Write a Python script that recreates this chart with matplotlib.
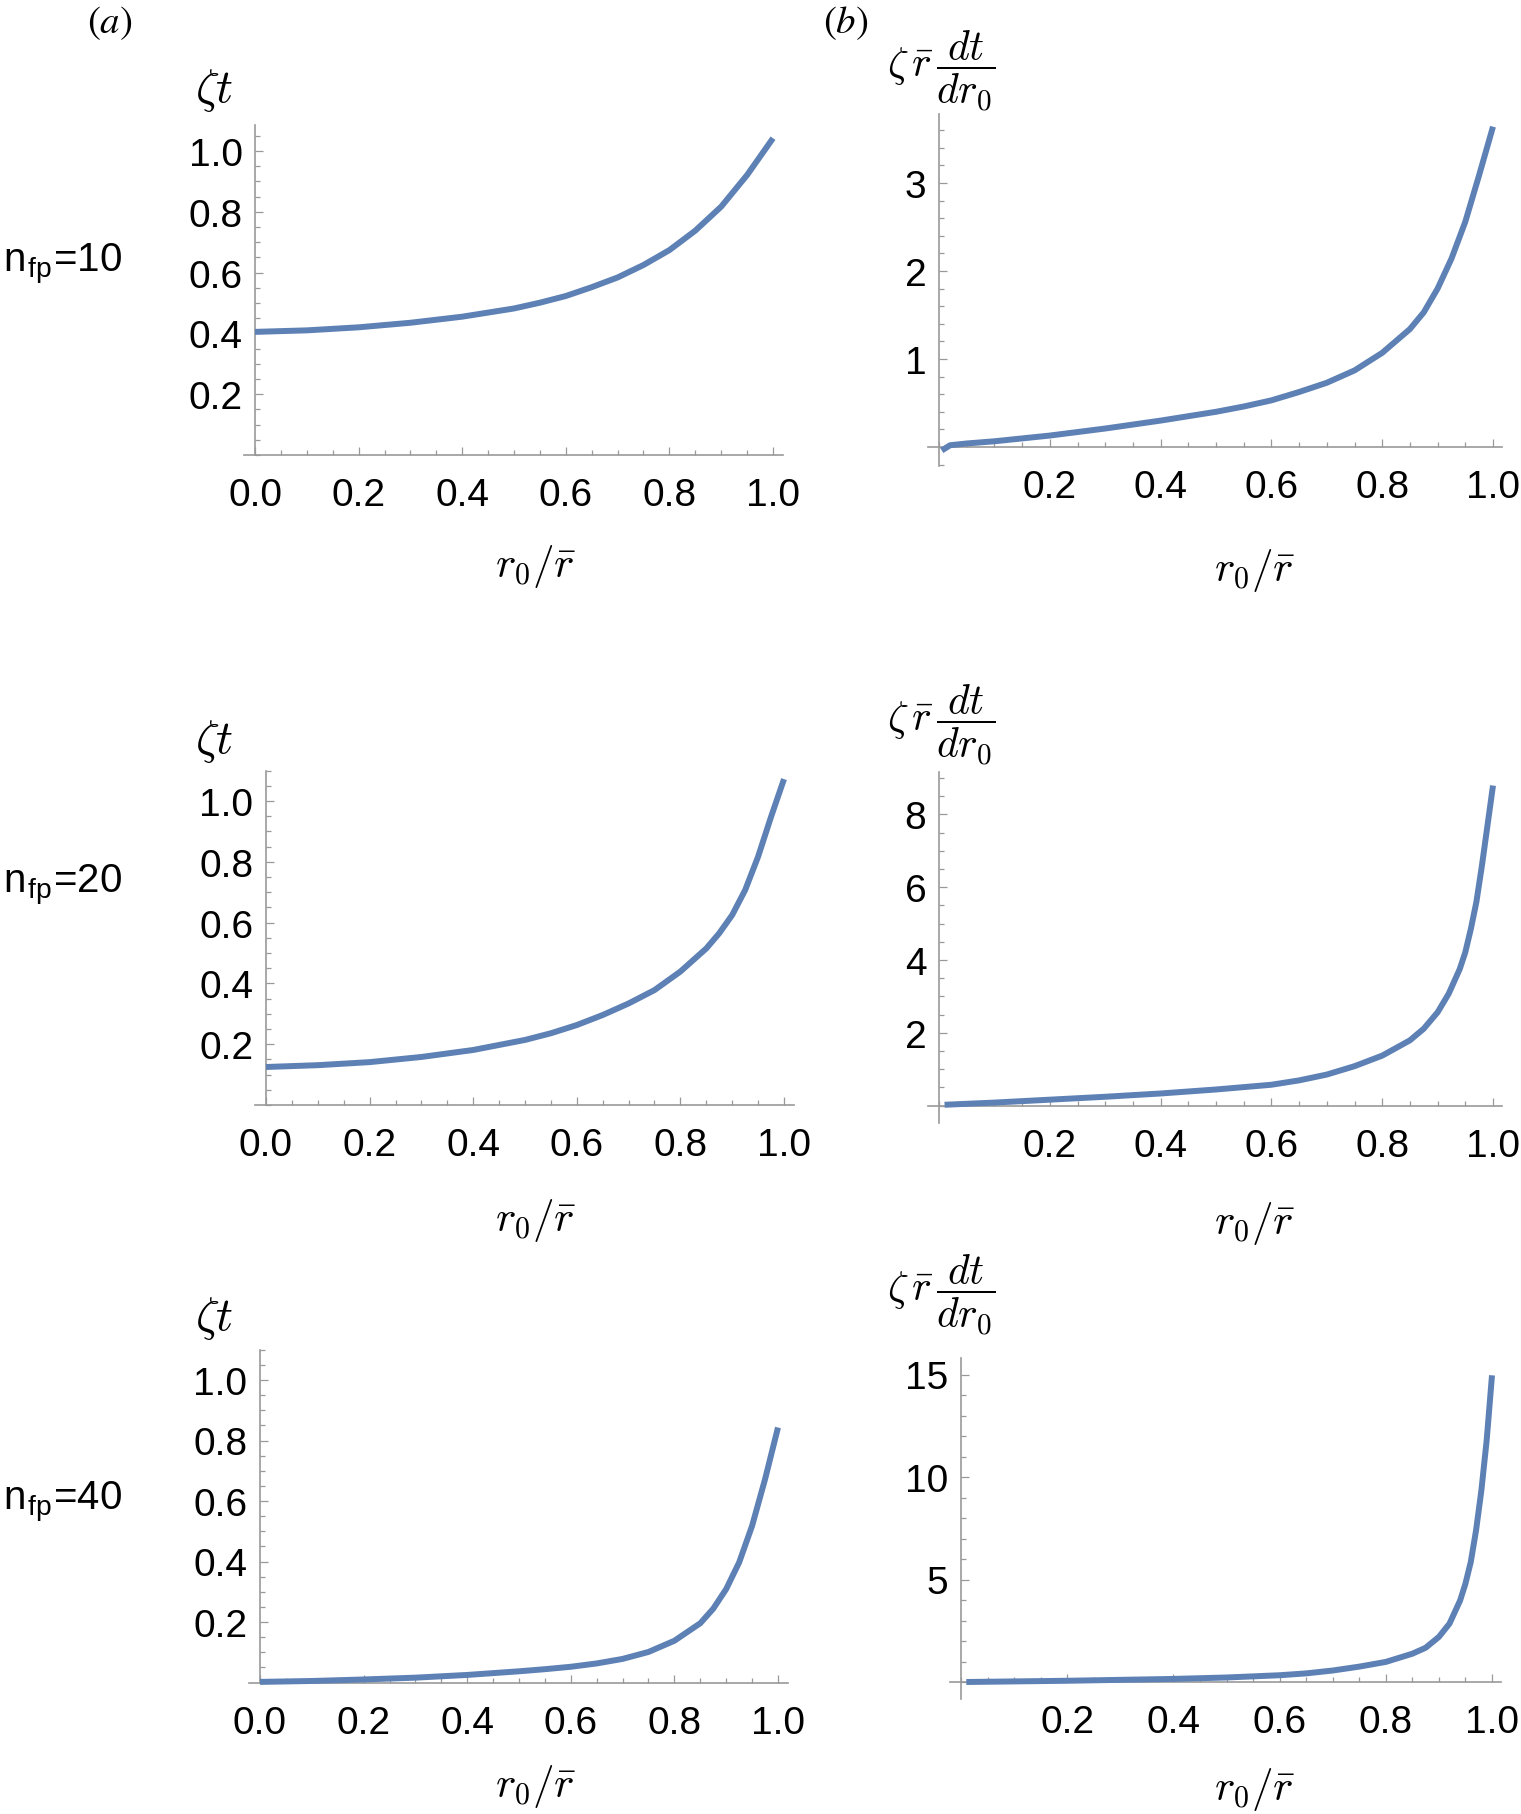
import matplotlib
matplotlib.use('Agg')
import matplotlib.pyplot as plt
from matplotlib.ticker import MultipleLocator, FixedLocator

plt.rcParams['font.family'] = ['Liberation Sans', 'DejaVu Sans']
plt.rcParams['mathtext.fontset'] = 'cm'

W, H = 1521, 1815
DPI = 100

# ---- data ----
row_labels = ['10', '20', '40']

# column (a): zeta*t vs r0/rbar
xa_10 = [0.0, 0.1, 0.2, 0.3, 0.4, 0.5, 0.55, 0.6, 0.65, 0.7, 0.75, 0.8, 0.85, 0.9, 0.95, 1.0]
ya_10 = [0.405, 0.41, 0.42, 0.435, 0.455, 0.482, 0.501, 0.523, 0.552, 0.584, 0.625, 0.674, 0.738,
         0.817, 0.921, 1.042]

xa_20 = [0.0, 0.1, 0.2, 0.3, 0.4, 0.5, 0.55, 0.6, 0.65, 0.7, 0.75, 0.8, 0.85, 0.875, 0.9, 0.925,
         0.95, 0.975, 1.0]
ya_20 = [0.125, 0.131, 0.141, 0.158, 0.181, 0.214, 0.236, 0.263, 0.296, 0.334, 0.378, 0.439, 0.515,
         0.565, 0.625, 0.707, 0.817, 0.948, 1.072]

xa_40 = [0.0, 0.1, 0.2, 0.3, 0.4, 0.5, 0.55, 0.6, 0.65, 0.7, 0.75, 0.8, 0.85, 0.875, 0.9, 0.925,
         0.95, 0.975, 1.0]
ya_40 = [0.002, 0.005, 0.01, 0.016, 0.025, 0.037, 0.044, 0.052, 0.063, 0.078, 0.101, 0.138, 0.196,
         0.244, 0.309, 0.397, 0.518, 0.672, 0.843]

# column (b): zeta*rbar*dt/dr0 vs r0/rbar
xb_10 = [0.005, 0.02, 0.05, 0.1, 0.2, 0.3, 0.4, 0.5, 0.55, 0.6, 0.65, 0.7, 0.75, 0.8, 0.85, 0.875,
         0.9, 0.925, 0.95, 0.975, 1.0]
yb_10 = [-0.04, 0.02, 0.04, 0.065, 0.13, 0.21, 0.30, 0.40, 0.46, 0.53, 0.625, 0.73, 0.87, 1.07,
         1.34, 1.53, 1.80, 2.14, 2.56, 3.09, 3.64]

xb_20 = [0.01, 0.1, 0.2, 0.3, 0.4, 0.5, 0.6, 0.65, 0.7, 0.75, 0.8, 0.85, 0.875, 0.9, 0.92, 0.94,
         0.95, 0.96, 0.97, 0.98, 0.99, 1.0]
yb_20 = [0.02, 0.08, 0.16, 0.24, 0.33, 0.44, 0.57, 0.69, 0.85, 1.08, 1.37, 1.79, 2.11, 2.56, 3.07,
         3.75, 4.21, 4.85, 5.59, 6.59, 7.69, 8.79]

xb_40 = [0.01, 0.2, 0.4, 0.5, 0.6, 0.65, 0.7, 0.75, 0.8, 0.85, 0.875, 0.9, 0.92, 0.94, 0.95, 0.96,
         0.97, 0.98, 0.99, 1.0]
yb_40 = [0.0, 0.06, 0.15, 0.22, 0.33, 0.42, 0.56, 0.75, 0.98, 1.38, 1.67, 2.2, 2.85, 3.98, 4.8,
         5.85, 7.4, 9.35, 11.8, 14.96]

a_ticks = [0.2, 0.4, 0.6, 0.8, 1.0]
b_ticks = [[1, 2, 3], [2, 4, 6, 8], [5, 10, 15]]
b_minor = [0.2, 0.5, 1.0]

LINE = '#5e81b5'
AXC = '#999999'
FS = 28

fig = plt.figure(figsize=(W / DPI, H / DPI), dpi=DPI)


def px(x, y):
    return x / W, 1 - y / H


def add_panel(x0, sx, y0, sy, xlim, ylim):
    # x0,y0: pixel of data origin; sx,sy: pixels per data unit
    left = (x0 + xlim[0] * sx) / W
    width = (xlim[1] - xlim[0]) * sx / W
    bottom = 1 - (y0 - ylim[0] * sy) / H
    height = (ylim[1] - ylim[0]) * sy / H
    ax = fig.add_axes([left, bottom, width, height])
    ax.set_xlim(*xlim)
    ax.set_ylim(*ylim)
    ax.patch.set_visible(False)
    for s in ['top', 'right']:
        ax.spines[s].set_visible(False)
    for s in ['left', 'bottom']:
        ax.spines[s].set_position(('data', 0))
        ax.spines[s].set_color(AXC)
        ax.spines[s].set_linewidth(1.2)
    ax.tick_params(which='both', direction='in', color=AXC, width=0.9)
    ax.tick_params(which='major', length=6)
    ax.tick_params(which='minor', length=3.5)
    ax.tick_params(axis='x', which='major', pad=16, labelsize=FS)
    ax.tick_params(axis='y', which='major', pad=9, labelsize=FS)
    ax.xaxis.set_minor_locator(MultipleLocator(0.05))
    return ax


# (x0, sx, y0, sy, ylim) per panel
a_geom = [(255, 518, 456, 304, (0, 1.086)),
          (266, 518, 1106, 304, (0, 1.10)),
          (260, 518, 1683.5, 302.5, (0, 1.10))]
b_geom = [(939, 554, 448, 88, (-0.22, 3.78)),
          (939, 554, 1106.5, 36.4, (-0.49, 9.17)),
          (961, 531, 1683, 20.5, (-0.82, 15.8))]

a_data = [(xa_10, ya_10), (xa_20, ya_20), (xa_40, ya_40)]
b_data = [(xb_10, yb_10), (xb_20, yb_20), (xb_40, yb_40)]

ylab_a = [90, 742, 1318]
ylab_b = [71, 725, 1295]
xlab_y = [[566, 570], [1220, 1224], [1787, 1790]]
row_y = [264, 885, 1502]

for i in range(3):
    x0, sx, y0, sy, yl = a_geom[i]
    ax = add_panel(x0, sx, y0, sy, (-0.021, 1.02), yl)
    ax.plot(a_data[i][0], a_data[i][1], color=LINE, lw=4.3, clip_on=False,
            solid_capstyle='butt', solid_joinstyle='round', zorder=3)
    ax.xaxis.set_major_locator(FixedLocator([0, 0.2, 0.4, 0.6, 0.8, 1.0]))
    ax.set_xticklabels(['0.0', '0.2', '0.4', '0.6', '0.8', '1.0'])
    ax.yaxis.set_major_locator(FixedLocator(a_ticks))
    ax.set_yticklabels([f'{t:.1f}' for t in a_ticks])
    ax.yaxis.set_minor_locator(MultipleLocator(0.05))

    x0, sx, y0, sy, yl = b_geom[i]
    ax = add_panel(x0, sx, y0, sy, (-0.02, 1.017), yl)
    ax.plot(b_data[i][0], b_data[i][1], color=LINE, lw=4.3, clip_on=False,
            solid_capstyle='butt', solid_joinstyle='round', zorder=3)
    ax.xaxis.set_major_locator(FixedLocator([0.2, 0.4, 0.6, 0.8, 1.0]))
    ax.set_xticklabels(['0.2', '0.4', '0.6', '0.8', '1.0'])
    ax.yaxis.set_major_locator(FixedLocator(b_ticks[i]))
    ax.set_yticklabels([str(t) for t in b_ticks[i]])
    ax.yaxis.set_minor_locator(MultipleLocator(b_minor[i]))

    # axis labels
    fig.text(*px(214, ylab_a[i]), r'$\zeta t$', fontsize=34, ha='center', va='center',
             math_fontfamily='cm')
    fig.text(*px(941, ylab_b[i]), r'$\zeta\,\bar{r}\,\dfrac{dt}{dr_0}$', fontsize=30,
             ha='center', va='center', math_fontfamily='cm')
    fig.text(*px(536, xlab_y[i][0]), r'$r_0/\bar{r}$', fontsize=31, ha='center',
             va='center', math_fontfamily='cm')
    fig.text(*px(1255, xlab_y[i][1]), r'$r_0/\bar{r}$', fontsize=31, ha='center',
             va='center', math_fontfamily='cm')

    # row label
    fig.text(*px(3, row_y[i]), r'n$_{\mathregular{fp}}$=' + row_labels[i], fontsize=29,
             ha='left', va='center')

fig.text(*px(110, 23), r'$(a)$', fontsize=28, ha='center', va='center', math_fontfamily='stix')
fig.text(*px(846, 23), r'$(b)$', fontsize=28, ha='center', va='center', math_fontfamily='stix')

fig.savefig('out.png', dpi=DPI)
